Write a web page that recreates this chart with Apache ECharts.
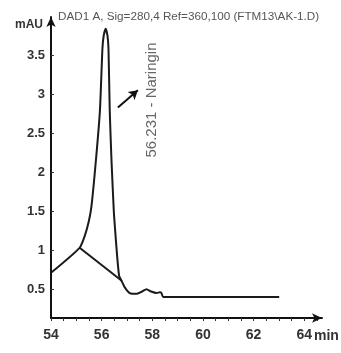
<!DOCTYPE html>
<html>
<head>
<meta charset="utf-8">
<script src="https://cdn.jsdelivr.net/npm/echarts@6/dist/echarts.min.js"></script>
<style>
  html, body { margin: 0; padding: 0; background: #fff; }
  #chart { width: 341px; height: 353px; }
</style>
</head>
<body>
<div id="chart"></div>
<script>
// signal trace [min, mAU]
const trace = [
    [54.0, 0.71], [55.13, 1.03], [55.33, 1.18], [55.5, 1.38], [55.6, 1.57],
    [55.77, 2.14], [55.93, 2.78], [56.03, 3.58], [56.08, 3.75], [56.16, 3.84],
    [56.23, 3.75], [56.27, 3.58], [56.32, 2.78], [56.39, 2.14], [56.48, 1.5],
    [56.52, 1.31], [56.61, 0.93], [56.69, 0.67], [56.78, 0.61], [56.92, 0.52],
    [57.11, 0.45], [57.38, 0.44], [57.6, 0.47], [57.77, 0.5], [57.95, 0.47],
    [58.17, 0.45], [58.3, 0.46], [58.36, 0.45], [58.43, 0.4], [63.01, 0.4]
];
// integration baseline under the peak
const baseline = [[55.13, 1.03], [56.78, 0.61]];
// arrow pointing at the peak label
const arrowFrom = [56.64, 2.83];
const arrowTo = [57.43, 3.05];

const xTicks = [54, 54.5, 55, 55.5, 56, 56.5, 57, 57.5, 58, 58.5, 59, 59.5, 60, 60.5, 61, 61.5, 62, 62.5, 63, 63.5, 64, 64.5];
const xLabels = [54, 56, 58, 60, 62, 64];
const yLabels = [0.5, 1, 1.5, 2, 2.5, 3, 3.5];

const titleText = 'DAD1 A, Sig=280,4 Ref=360,100 (FTM13\\AK-1.D)';
const peakText = '56.231 - Naringin';

const font = 'Liberation Sans, Arial, sans-serif';

const chart = echarts.init(document.getElementById('chart'), null, { renderer: 'canvas' });

chart.setOption({
    animation: false,
    title: {
        text: titleText,
        left: 53,
        top: 6,
        textStyle: { fontFamily: font, fontSize: 11.7, fontWeight: 'normal', color: '#555' }
    },
    grid: { left: 51, right: 19, top: 17, bottom: 35 },
    xAxis: {
        type: 'value',
        min: 54,
        max: 64.7,
        splitLine: { show: false },
        axisLine: {
            lineStyle: { color: '#111', width: 2 },
            symbol: ['none', 'arrow'],
            symbolSize: [7, 10]
        },
        axisTick: { customValues: xTicks, length: 3, lineStyle: { color: '#333', width: 1 } },
        axisLabel: {
            customValues: xLabels,
            margin: 10,
            fontFamily: font,
            fontSize: 14,
            fontWeight: 'bold',
            color: '#333'
        }
    },
    yAxis: {
        type: 'value',
        min: 0.13,
        max: 3.99,
        splitLine: { show: false },
        axisLine: {
            lineStyle: { color: '#111', width: 2 },
            symbol: ['none', 'arrow'],
            symbolSize: [7, 10]
        },
        axisTick: { customValues: yLabels, length: 3, inside: true, lineStyle: { color: '#333' } },
        axisLabel: {
            customValues: yLabels,
            margin: 6,
            fontFamily: font,
            fontSize: 13,
            fontWeight: 'bold',
            color: '#333'
        }
    },
    graphic: [
        {
            type: 'text',
            left: 15,
            top: 19,
            style: { text: 'mAU', font: 'bold 12px ' + font, fill: '#333' }
        },
        {
            type: 'text',
            x: 314,
            y: 336,
            style: { text: 'min', font: 'bold 14px ' + font, fill: '#333', textVerticalAlign: 'middle' }
        },
        {
            type: 'text',
            x: 152,
            y: 100,
            rotation: Math.PI / 2,
            style: {
                text: peakText,
                font: '15px ' + font,
                fill: '#666',
                textAlign: 'center',
                textVerticalAlign: 'middle'
            }
        }
    ],
    series: [
        {
            type: 'line',
            data: trace,
            showSymbol: false,
            smooth: 0.2,
            lineStyle: { color: '#1a1a1a', width: 2 },
            markLine: {
                silent: true,
                symbol: ['none', 'arrow'],
                symbolSize: [8, 9],
                label: { show: false },
                lineStyle: { color: '#111', width: 2, type: 'solid' },
                data: [[{ coord: arrowFrom }, { coord: arrowTo }]]
            }
        },
        {
            type: 'line',
            data: baseline,
            showSymbol: false,
            lineStyle: { color: '#1a1a1a', width: 2 }
        }
    ]
});
</script>
</body>
</html>
